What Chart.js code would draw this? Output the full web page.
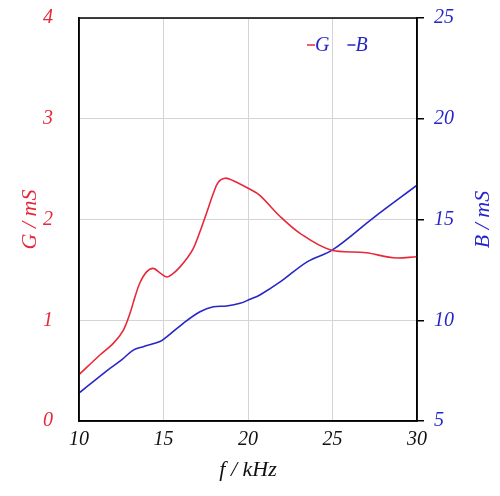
<!DOCTYPE html>
<html><head><meta charset="utf-8">
<script src="https://cdn.jsdelivr.net/npm/chart.js@4.4.1/dist/chart.umd.min.js"></script>
<style>html,body{margin:0;padding:0;background:#fff}#wrap{width:500px;height:496px}</style>
</head><body><div id="wrap"><canvas id="c" width="500" height="496"></canvas></div>
<script>
const gFreq = [10, 11.24, 12.03, 12.62, 13.02, 13.31, 13.6, 14.0, 14.4, 14.79, 15.19, 15.58, 15.98, 16.37, 16.76, 17.16, 17.56, 17.95, 18.24, 18.64, 19.13, 20.12, 20.7, 21.9, 23.1, 24.85, 27.0, 28.6, 30];
const gValues = [0.46, 0.655, 0.77, 0.90, 1.07, 1.23, 1.37, 1.48, 1.515, 1.47, 1.43, 1.465, 1.53, 1.61, 1.71, 1.88, 2.07, 2.26, 2.37, 2.41, 2.385, 2.30, 2.24, 2.03, 1.86, 1.70, 1.67, 1.62, 1.63];
const bFreq = [10, 11.7, 12.52, 13.21, 13.8, 14.79, 15.19, 16.17, 17.16, 17.95, 18.74, 19.53, 20.12, 20.7, 21.9, 23.5, 25, 27.4, 30];
const bValues = [6.39, 7.53, 8.03, 8.52, 8.69, 8.94, 9.18, 9.85, 10.42, 10.67, 10.71, 10.84, 11.04, 11.25, 11.9, 12.9, 13.49, 15.07, 16.7];
const xTicks = [10, 15, 20, 25, 30];
const gTicks = [0, 1, 2, 3, 4];
const bTicks = [5, 10, 15, 20, 25];

const RED = '#e8283a', BLUE = '#2626c8';
const FAM = '"Liberation Serif", "Times New Roman", serif';
const FONT = {family: FAM, style: 'italic', size: 20};
const TFONT = {family: FAM, style: 'italic', size: 22};

const extras = {
  id: 'extras',
  afterDraw(chart) {
    const ctx = chart.ctx, a = chart.chartArea;
    ctx.save();
    ctx.strokeStyle = '#000'; ctx.lineWidth = 1.5;
    ctx.strokeRect(a.left, a.top, a.right - a.left, a.bottom - a.top);
    // right axis title, reading bottom-to-top
    ctx.font = 'italic 22px ' + FAM;
    ctx.fillStyle = BLUE; ctx.textAlign = 'center'; ctx.textBaseline = 'middle';
    ctx.translate(483, (a.top + a.bottom) / 2);
    ctx.rotate(-Math.PI / 2);
    ctx.fillText('B / mS', 0, 0);
    ctx.restore();
    // legend
    ctx.save();
    ctx.font = 'italic 20px ' + FAM;
    ctx.textBaseline = 'middle'; ctx.textAlign = 'left';
    const items = chart.data.datasets.map(d => ({label: d.label, color: d.borderColor}));
    let x = 307; const y = 45;
    items.forEach(it => {
      ctx.strokeStyle = it.color; ctx.lineWidth = 1.5;
      ctx.beginPath(); ctx.moveTo(x, y); ctx.lineTo(x + 8, y); ctx.stroke();
      ctx.fillStyle = BLUE;
      ctx.fillText(it.label, x + 8, y + 1);
      x += 8 + ctx.measureText(it.label).width + 18;
    });
    ctx.restore();
  }
};

const noPadY = s => { s.paddingTop = 0; s.paddingBottom = 0; };

new Chart(document.getElementById('c'), {
  type: 'line',
  data: {
    datasets: [
      {label: 'G', data: gFreq.map((f, i) => ({x: f, y: gValues[i]})), yAxisID: 'yG',
       borderColor: RED, borderWidth: 1.6, pointRadius: 0, tension: 0.35, fill: false},
      {label: 'B', data: bFreq.map((f, i) => ({x: f, y: bValues[i]})), yAxisID: 'yB',
       borderColor: BLUE, borderWidth: 1.6, pointRadius: 0, tension: 0.35, fill: false}
    ]
  },
  options: {
    responsive: false, animation: false,
    layout: {padding: {top: 18, left: 0, right: 0, bottom: 0}},
    plugins: {legend: {display: false}, tooltip: {enabled: false}},
    scales: {
      x: {
        type: 'linear', min: 10, max: 30,
        afterBuildTicks: s => { s.ticks = xTicks.map(v => ({value: v})); },
        afterFit: s => { s.height = 75; s.paddingLeft = 0; s.paddingRight = 0; },
        grid: {color: '#d4d4d4', drawTicks: false, lineWidth: 1},
        border: {color: '#000', width: 1.5},
        ticks: {color: '#111', font: FONT, padding: 7, maxRotation: 0},
        title: {display: true, text: 'f / kHz', color: '#111', font: TFONT, padding: {top: 2, bottom: 13}}
      },
      yG: {
        type: 'linear', position: 'left', min: 0, max: 4,
        afterBuildTicks: s => { s.ticks = gTicks.map(v => ({value: v})); },
        afterFit: s => { s.width = 79; noPadY(s); },
        grid: {color: '#d4d4d4', drawTicks: false, lineWidth: 1},
        border: {color: '#000', width: 1.5},
        ticks: {color: RED, font: FONT, padding: 26},
        title: {display: true, text: 'G / mS', color: RED, font: TFONT, padding: {top: 17, bottom: 0}}
      },
      yB: {
        type: 'linear', position: 'right', min: 5, max: 25,
        afterBuildTicks: s => { s.ticks = bTicks.map(v => ({value: v})); },
        afterFit: s => { s.width = 83; noPadY(s); },
        grid: {drawOnChartArea: false, color: '#000', tickLength: 7, lineWidth: 1.5},
        border: {color: '#000', width: 1.5},
        ticks: {color: BLUE, font: FONT, padding: 10}
      }
    }
  },
  plugins: [extras]
});
</script></body></html>
